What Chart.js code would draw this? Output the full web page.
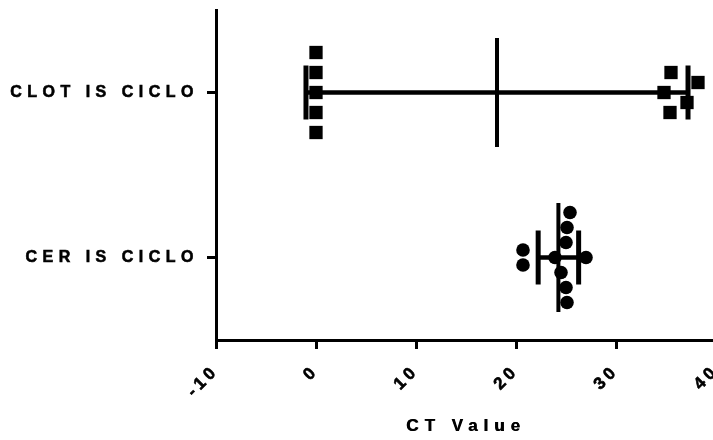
<!DOCTYPE html>
<html><head><meta charset="utf-8">
<script src="https://cdn.jsdelivr.net/npm/chart.js@4/dist/chart.umd.min.js"></script>
<style>
html,body{margin:0;padding:0;overflow:hidden;background:#fff;width:713px;height:440px}
#wrap{position:absolute;left:0;top:0;width:760px;height:440px}
</style>
</head><body><div id="wrap"><canvas id="c" width="760" height="440"></canvas></div>
<script>
// ---- data ----
const categories = ['CER IS CICLO', 'CLOT IS CICLO'];   // row 0 (bottom), row 1 (top)
const cerValues  = [25.4, 25.1, 25.0, 20.7, 23.9, 27.0, 20.7, 24.5, 25.0, 25.1];
const clotValues = [0, 0, 0, 0, 0, 35.5, 38.2, 34.8, 37.1, 35.4];
const xTickValues = [-10, 0, 10, 20, 30, 40];
const xTitle = 'CT Value';

// ---- helpers ----
const FONT = '"Liberation Sans", Arial, sans-serif';
const mean = a => a.reduce((s, v) => s + v, 0) / a.length;
const sd = a => { const m = mean(a); return Math.sqrt(a.reduce((s, v) => s + (v - m) * (v - m), 0) / (a.length - 1)); };

// column-scatter spreading (pixel offsets), computed from the values
function spread(vals, xs, gapPx, stepPx) {
  const idx = vals.map((v, i) => i).sort((a, b) => vals[a] - vals[b]);
  const off = new Array(vals.length).fill(0);
  const groups = [];
  let g = [idx[0]];
  for (let k = 1; k < idx.length; k++) {
    const d = Math.abs(xs.getPixelForValue(vals[idx[k]]) - xs.getPixelForValue(vals[idx[k - 1]]));
    if (d < gapPx) g.push(idx[k]); else { groups.push(g); g = [idx[k]]; }
  }
  groups.push(g);
  groups.forEach(gr => {
    const n = gr.length;
    gr.forEach((k, j) => {
      if (n % 2 === 1) { const m = Math.ceil(j / 2); off[k] = (j === 0 ? 0 : (j % 2 === 1 ? m : -m)) * stepPx; }
      else { const m = Math.floor(j / 2) + 0.5; off[k] = (j % 2 === 0 ? m : -m) * stepPx; }
    });
  });
  return off;
}

function wrapSpacing(scale, fn, ls, heavy) {
  const key = '_ls_' + fn;
  if (scale[key]) return;
  const orig = scale[fn];
  scale[fn] = function (...args) {
    const c = this.ctx;
    c.save(); c.letterSpacing = ls; orig.apply(this, args); c.restore();
    if (heavy) { c.save(); c.letterSpacing = ls; c.translate(0.6, 0); orig.apply(this, args); c.restore(); }
  };
  scale[key] = true;
}

const spacingPlugin = {
  id: 'spacing',
  beforeDraw(chart) {
    wrapSpacing(chart.scales.x, 'drawLabels', '4px', false);
    wrapSpacing(chart.scales.x, 'drawTitle', '6px', true);
    wrapSpacing(chart.scales.y, 'drawLabels', '5.5px', false);
  }
};

const statsPlugin = {
  id: 'stats',
  afterDatasetsDraw(chart) {
    const { ctx } = chart; const xs = chart.scales.x, ys = chart.scales.y;
    [[cerValues, 0], [clotValues, 1]].forEach(([vals, row]) => {
      const m = mean(vals), s = sd(vals);
      const py = ys.getPixelForValue(row);
      const pm = xs.getPixelForValue(m), pl = xs.getPixelForValue(m - s), pr = xs.getPixelForValue(m + s);
      ctx.save(); ctx.strokeStyle = '#000'; ctx.lineCap = 'butt';
      const ln = (x1, y1, x2, y2, w) => { ctx.lineWidth = w; ctx.beginPath(); ctx.moveTo(x1, y1); ctx.lineTo(x2, y2); ctx.stroke(); };
      ln(pl, py, pr, py, 4.5);
      ln(pl, py - 27, pl, py + 27, 5);
      ln(pr, py - 27, pr, py + 27, 5);
      ln(pm, py - 54.5, pm, py + 54.5, 4);
      ctx.restore();
    });
  }
};

const tickFont = (size) => ({ family: FONT, size, weight: 'bold' });

const chart = new Chart(document.getElementById('c'), {
  type: 'scatter',
  data: {
    datasets: [
      { label: categories[1], data: clotValues.map(v => ({ x: v, y: 1 })), pointStyle: 'rect',
        pointRadius: 9.4, pointHoverRadius: 9.4, backgroundColor: '#000', borderColor: '#000', borderWidth: 0 },
      { label: categories[0], data: cerValues.map(v => ({ x: v, y: 0 })), pointStyle: 'circle',
        pointRadius: 6.8, pointHoverRadius: 6.8, backgroundColor: '#000', borderColor: '#000', borderWidth: 0 }
    ]
  },
  options: {
    responsive: false, animation: false, devicePixelRatio: 1,
    layout: { padding: { top: 10, right: 44, left: 0, bottom: 0 } },
    plugins: { legend: { display: false }, tooltip: { enabled: false } },
    scales: {
      x: {
        type: 'linear', min: -10, max: 40,
        afterBuildTicks: a => { a.ticks = xTickValues.map(v => ({ value: v })); },
        afterFit: s => { s.height = 100; s.paddingLeft = 0; s.paddingRight = 0; },
        grid: { display: true, drawOnChartArea: false, drawTicks: true, tickLength: 9, tickWidth: 3, lineWidth: 3, color: '#000', tickColor: '#000' },
        border: { display: true, width: 3, color: '#000' },
        ticks: { minRotation: 45, maxRotation: 45, padding: 12, color: '#000', font: tickFont(17),
                 textStrokeColor: '#000', textStrokeWidth: 0.6 },
        title: { display: true, text: xTitle, color: '#000', font: tickFont(17), padding: { top: 0, bottom: 3 } }
      },
      y: {
        type: 'linear', min: -0.5, max: 1.5,
        afterBuildTicks: a => { a.ticks = categories.map((c, i) => ({ value: i })); },
        afterFit: s => { s.width = 216; s.paddingTop = 0; s.paddingBottom = 0; },
        grid: { display: true, drawOnChartArea: false, drawTicks: true, tickLength: 9, tickWidth: 3, lineWidth: 3, color: '#000', tickColor: '#000' },
        border: { display: true, width: 3, color: '#000' },
        ticks: { padding: 8, color: '#000', font: tickFont(16), callback: v => categories[v] ?? '',
                 textStrokeColor: '#000', textStrokeWidth: 0.6 }
      }
    }
  },
  plugins: [spacingPlugin, statsPlugin]
});

// second pass: spread points of each column around its row
(function () {
  const xs = chart.scales.x, ys = chart.scales.y;
  [[0, clotValues, 1, 20], [1, cerValues, 0, 15]].forEach(([di, vals, row, step]) => {
    const offs = spread(vals, xs, 14, step);
    const py = ys.getPixelForValue(row);
    chart.data.datasets[di].data = vals.map((v, i) => ({ x: v, y: ys.getValueForPixel(py + offs[i]) }));
  });
  chart.update('none');
})();
</script>
</body></html>
